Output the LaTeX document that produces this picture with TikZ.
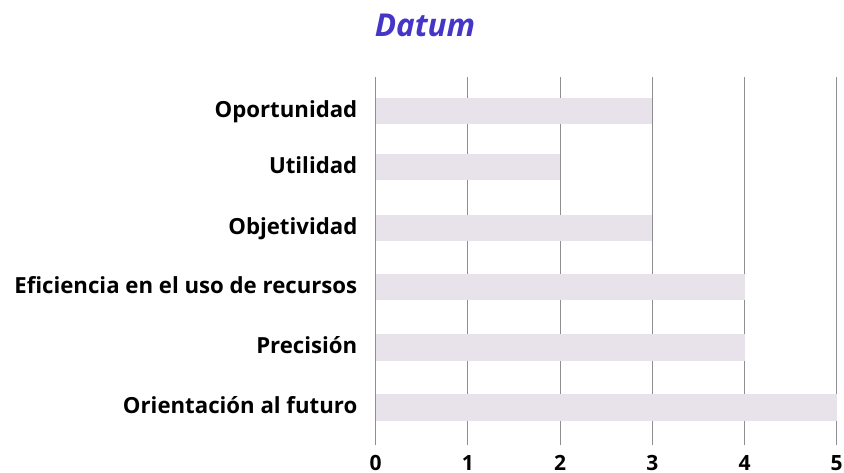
\documentclass[tikz,border=0pt]{standalone}
\usepackage{fontspec}
\setmainfont{Open Sans}
\definecolor{barfill}{HTML}{E8E2EA}
\definecolor{titleblue}{HTML}{4536C8}
\definecolor{gridgray}{HTML}{8E8E92}
\begin{document}
\begin{tikzpicture}[x=1pt,y=-1pt,
  bar/.style={fill=barfill,draw=none},
  gridline/.style={draw=gridgray,line width=1.1pt},
  catlabel/.style={anchor=base east,inner sep=0pt,font=\fontsize{22.2}{24}\selectfont\bfseries},
  ticklabel/.style={anchor=base,inner sep=0pt,font=\fontsize{21}{23}\selectfont\bfseries},
  titlelabel/.style={anchor=base,inner sep=0pt,text=titleblue,font=\fontsize{31.5}{34}\selectfont\bfseries\itshape}]
\useasboundingbox (0,0) rectangle (844,473);
\def\ux{92.2}
\def\xo{375.7}
% grid lines
\foreach \i in {0,...,5}{
  \coordinate (gt\i) at ({\xo+\i*\ux},77.3);
  \coordinate (gb\i) at ({\xo+\i*\ux},445);
  \draw[gridline] (gt\i) -- (gb\i);
  \node[ticklabel] (tick\i) at ({\xo+\i*\ux},470) {\i};
}
% bars
\foreach \n/\yc/\v/\lab in {a/111.3/3/Oportunidad, b/167.3/2/Utilidad, c/228.3/3/Objetividad, d/287.3/4/Eficiencia en el uso de recursos, e/347.3/4/Precisión, f/407.3/5/Orientación al futuro}{
  \fill[bar] (\xo,\yc-13.2) rectangle ({\xo+\v*\ux},\yc+13.2);
  \node[catlabel] (lab\n) at (357.5,\yc+6) {\lab};
}
\node[titlelabel] (title) at (425,37) {Datum};
\end{tikzpicture}
\end{document}
